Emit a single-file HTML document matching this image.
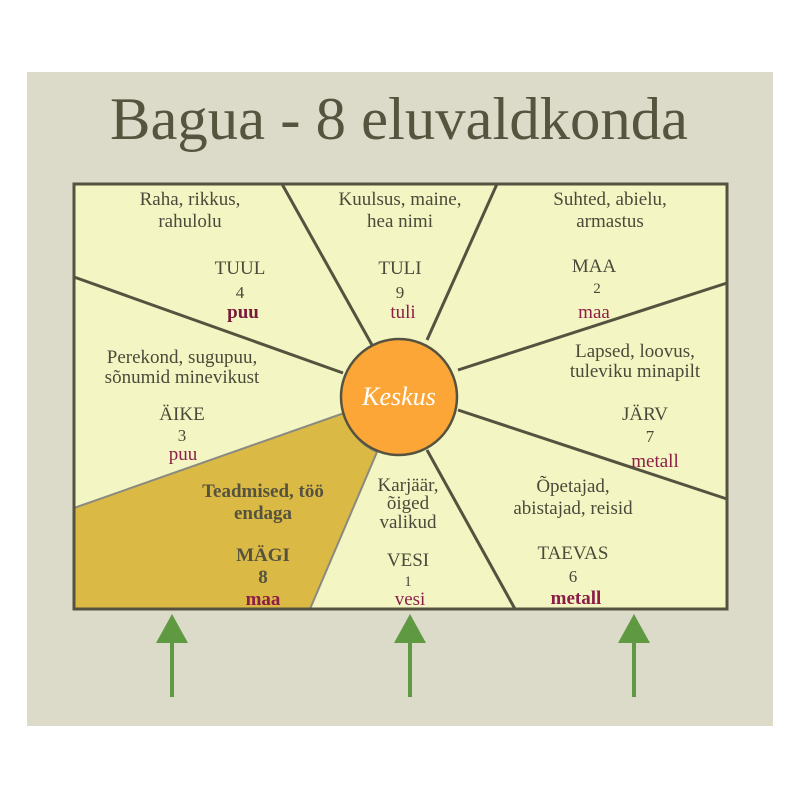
<!DOCTYPE html>
<html><head><meta charset="utf-8"><style>
html,body{margin:0;padding:0;background:#fff;}
svg{display:block}
text{font-family:"Liberation Serif",serif;}
</style></head><body>
<svg width="800" height="800" viewBox="0 0 800 800" xmlns="http://www.w3.org/2000/svg">
<rect x="27" y="72" width="746" height="654" fill="#dcdac8"/>
<text x="399" y="139" font-size="60" fill="#55553f" text-anchor="middle" textLength="578" lengthAdjust="spacingAndGlyphs">Bagua - 8 eluvaldkonda</text>
<rect x="74" y="184" width="653" height="425" fill="#f3f5c3"/>
<path d="M74,508 L344,413 A58,58 0 0 0 377,452 L310,609 L74,609 Z" fill="#dbb945" stroke="#8a8a80" stroke-width="2"/>
<g stroke="#55533f" stroke-width="3" fill="none">
<line x1="282" y1="184" x2="372" y2="345"/>
<line x1="497" y1="184" x2="427" y2="340"/>
<line x1="74" y1="277" x2="343" y2="373"/>
<line x1="727" y1="283" x2="458" y2="370"/>
<line x1="727" y1="499" x2="458" y2="410"/>
<line x1="515" y1="609" x2="427" y2="450"/>
</g>
<rect x="74" y="184" width="653" height="425" fill="none" stroke="#55533f" stroke-width="3"/>
<circle cx="399" cy="397" r="58" fill="#fca637" stroke="#55533f" stroke-width="2.5"/>
<text x="399" y="405" font-size="26" font-style="italic" fill="#fff" text-anchor="middle">Keskus</text>
<g font-size="19" fill="#4a4a3a" text-anchor="middle">
<text x="190" y="205">Raha, rikkus,</text><text x="190" y="227">rahulolu</text>
<text x="240" y="274">TUUL</text><text x="240" y="298" font-size="17">4</text>
<text x="400" y="205">Kuulsus, maine,</text><text x="400" y="227">hea nimi</text>
<text x="400" y="274">TULI</text><text x="400" y="298" font-size="17">9</text>
<text x="610" y="205">Suhted, abielu,</text><text x="610" y="227">armastus</text>
<text x="594" y="272">MAA</text><text x="597" y="293" font-size="15">2</text>
<text x="182" y="363">Perekond, sugupuu,</text><text x="182" y="383">sõnumid minevikust</text>
<text x="182" y="420">ÄIKE</text><text x="182" y="441" font-size="17">3</text>
<text x="635" y="357">Lapsed, loovus,</text><text x="635" y="377">tuleviku minapilt</text>
<text x="645" y="420">JÄRV</text><text x="650" y="442" font-size="17">7</text>
<text x="408" y="491">Karjäär,</text><text x="408" y="509">õiged</text><text x="408" y="528">valikud</text>
<text x="408" y="566">VESI</text><text x="408" y="586" font-size="15">1</text>
<text x="573" y="492">Õpetajad,</text><text x="573" y="514">abistajad, reisid</text>
<text x="573" y="559">TAEVAS</text><text x="573" y="582" font-size="17">6</text>
</g>
<g font-size="19" fill="#55533f" text-anchor="middle" font-weight="bold">
<text x="263" y="497">Teadmised, töö</text><text x="263" y="519">endaga</text>
<text x="263" y="561">MÄGI</text><text x="263" y="583">8</text>
</g>
<g font-size="19" fill="#8c1d47" text-anchor="middle">
<text x="243" y="318" font-weight="bold" fill="#7a1a3a">puu</text>
<text x="403" y="318">tuli</text>
<text x="594" y="318">maa</text>
<text x="183" y="460">puu</text>
<text x="655" y="467">metall</text>
<text x="263" y="605" font-weight="bold">maa</text>
<text x="410" y="605">vesi</text>
<text x="576" y="604" font-weight="bold">metall</text>
</g>
<g stroke="#5f9a42" stroke-width="4" fill="#5f9a42">
<line x1="172" y1="635" x2="172" y2="697"/><polygon points="172,614 156,643 188,643" stroke="none"/>
<line x1="410" y1="635" x2="410" y2="697"/><polygon points="410,614 394,643 426,643" stroke="none"/>
<line x1="634" y1="635" x2="634" y2="697"/><polygon points="634,614 618,643 650,643" stroke="none"/>
</g>
</svg>
</body></html>
